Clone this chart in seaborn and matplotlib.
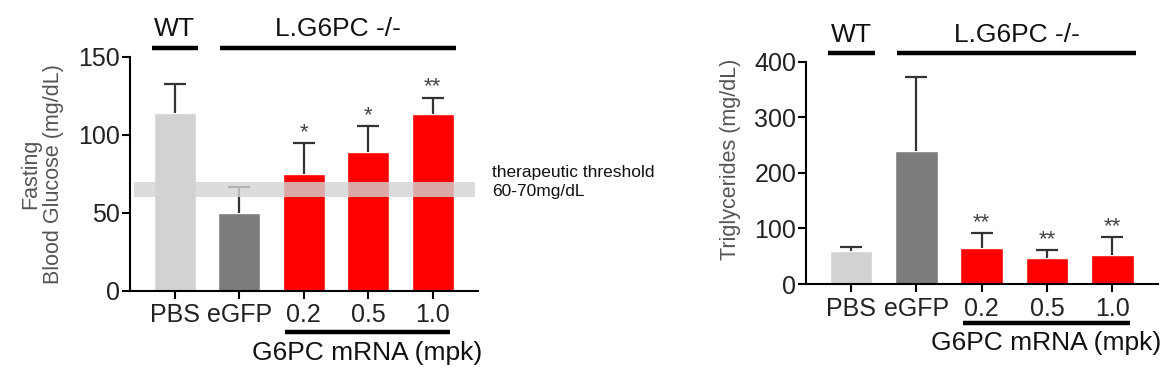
import numpy as np
import matplotlib
matplotlib.use("Agg")
import matplotlib.pyplot as plt
import seaborn as sns

sns.set_style("ticks")
plt.rcParams['font.family'] = ['Liberation Sans', 'DejaVu Sans']

# ------------------------------------------------------------
# data
# ------------------------------------------------------------
groups = ["PBS", "eGFP", "0.2", "0.5", "1.0"]
bar_colors = ["#d2d2d2", "#7c7c7c", "#ff0000", "#ff0000", "#ff0000"]

glucose_mean = [114, 50, 75, 89, 113.5]
glucose_sem = [18.5, 16.5, 20, 16.5, 10.5]
glucose_stars = ["", "", "*", "*", "**"]
threshold_low, threshold_high = 60, 70

tg_mean = [60, 239, 64, 47, 53]
tg_sem = [7, 133, 27, 14, 32]
tg_stars = ["", "", "**", "**", "**"]

TICK_FS = 18
GROUP_FS = 19
LABEL_COLOR = "#555555"


def draw_panel(ax, means, sems, stars, ymax, ystep, ylabel, label_xy):
    sns.barplot(x=groups, y=means, hue=groups, palette=bar_colors, legend=False,
                width=0.65, saturation=1, errorbar=None, ax=ax)
    x = np.arange(len(groups))
    eb = ax.errorbar(x, means, yerr=[np.zeros(len(sems)), sems], fmt="none",
                     ecolor="#333333", elinewidth=1.6, capsize=8, capthick=1.6, zorder=2)
    # only the upper half of each error bar is shown
    eb[1][0].set_visible(False)
    for xi, m, s, st in zip(x, means, sems, stars):
        if st:
            ax.annotate(st, (xi, m + s), xytext=(0, 0), textcoords="offset points",
                        ha="center", va="bottom", fontsize=16, color="#444444")

    ax.set_xlim(-0.69, 4.70)
    ax.set_ylim(0, ymax)
    ax.set_yticks(np.arange(0, ymax + 1, ystep))
    sns.despine(ax=ax)
    for sp in ("left", "bottom"):
        ax.spines[sp].set_linewidth(1.5)
        ax.spines[sp].set_color("black")
    ax.tick_params(axis="both", length=6, width=1.5, labelsize=TICK_FS, colors="black",
                   labelcolor="#222222")
    ax.tick_params(axis="y", pad=1)
    ax.tick_params(axis="x", pad=3)
    ax.set_xlabel("")
    ax.set_ylabel(ylabel, fontsize=15.5, color=LABEL_COLOR, linespacing=1.1)
    ax.yaxis.set_label_coords(*label_xy)

    # group brackets above / below the bars
    tr = ax.get_xaxis_transform()
    spans = [("WT", -0.35, 0.36, 1.038, 1.12),
             ("L.G6PC -/-", 0.71, 4.36, 1.038, 1.12),
             ("G6PC mRNA (mpk)", 1.71, 4.27, -0.175, -0.265)]
    for label, x0, x1, yl, yt in spans:
        ax.plot([x0, x1], [yl, yl], color="black", lw=3.2, transform=tr,
                clip_on=False, solid_capstyle="butt")
        ax.text((x0 + x1) / 2, yt, label, transform=tr, ha="center", va="center",
                fontsize=GROUP_FS, color="#111111")


fig = plt.figure(figsize=(11.75, 3.81), dpi=100)
ax1 = fig.add_axes([130 / 1175, 1 - 291 / 381, 348 / 1175, 234 / 381])
ax2 = fig.add_axes([806 / 1175, 1 - 284 / 381, 352 / 1175, 222.3 / 381])

draw_panel(ax1, glucose_mean, glucose_sem, glucose_stars, 150, 50,
           "Fasting\nBlood Glucose (mg/dL)", (-0.19, 0.5))
draw_panel(ax2, tg_mean, tg_sem, tg_stars, 400, 100,
           "Triglycerides (mg/dL)", (-0.186, 0.56))

# therapeutic threshold band over the glucose bars
ax1.fill_between([-0.63, 4.65], threshold_low, threshold_high, color="#d4d4d4",
                 alpha=0.8, lw=0, zorder=3)
ax1.text(1.04, (threshold_low + threshold_high) / 2 + 5,
         f"therapeutic threshold\n{threshold_low}-{threshold_high}mg/dL",
         transform=ax1.get_yaxis_transform(), ha="left", va="center",
         fontsize=12.5, color="#111111", linespacing=1.3)

fig.savefig("out.png", dpi=100)
